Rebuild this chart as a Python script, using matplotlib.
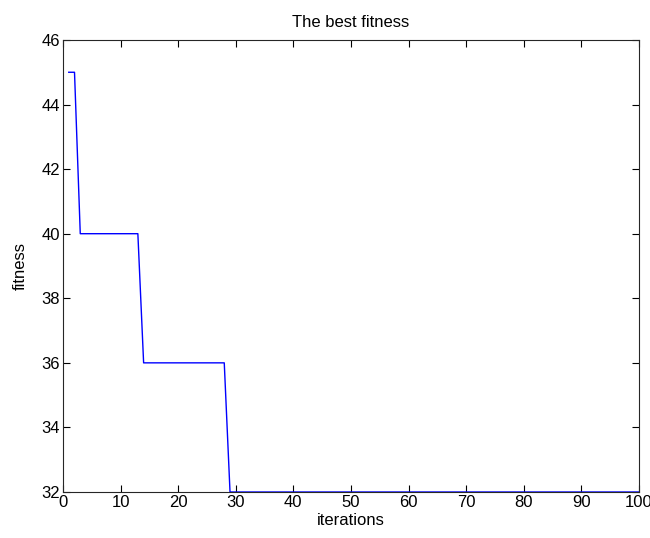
import matplotlib
matplotlib.use("Agg")
import matplotlib.pyplot as plt

# best fitness per iteration
iterations = list(range(1, 101))
fitness = [45] * 2 + [40] * 11 + [36] * 15 + [32] * 72

plt.rcParams['font.family'] = ['Liberation Sans', 'DejaVu Sans']

fig = plt.figure(figsize=(6.5, 5.38), dpi=100)
ax = fig.add_axes([0.0969, 0.0855, 0.8861, 0.8402])

ax.plot(iterations, fitness, color='#0000ff', linewidth=1.0)

ax.set_xlim(0, 100)
ax.set_ylim(32, 46)
ax.set_xticks(range(0, 101, 10))
ax.set_yticks(range(32, 47, 2))
ax.tick_params(direction='in', length=5, top=True, right=True, labelsize=12, pad=2)
for s in ax.spines.values():
    s.set_color('#262626')
    s.set_linewidth(0.8)

ax.set_title('The best fitness', fontsize=12, pad=9)
ax.set_xlabel('iterations', fontsize=12, labelpad=2)
ax.set_ylabel('fitness', fontsize=12, labelpad=10)

fig.savefig('out.png', dpi=100)
